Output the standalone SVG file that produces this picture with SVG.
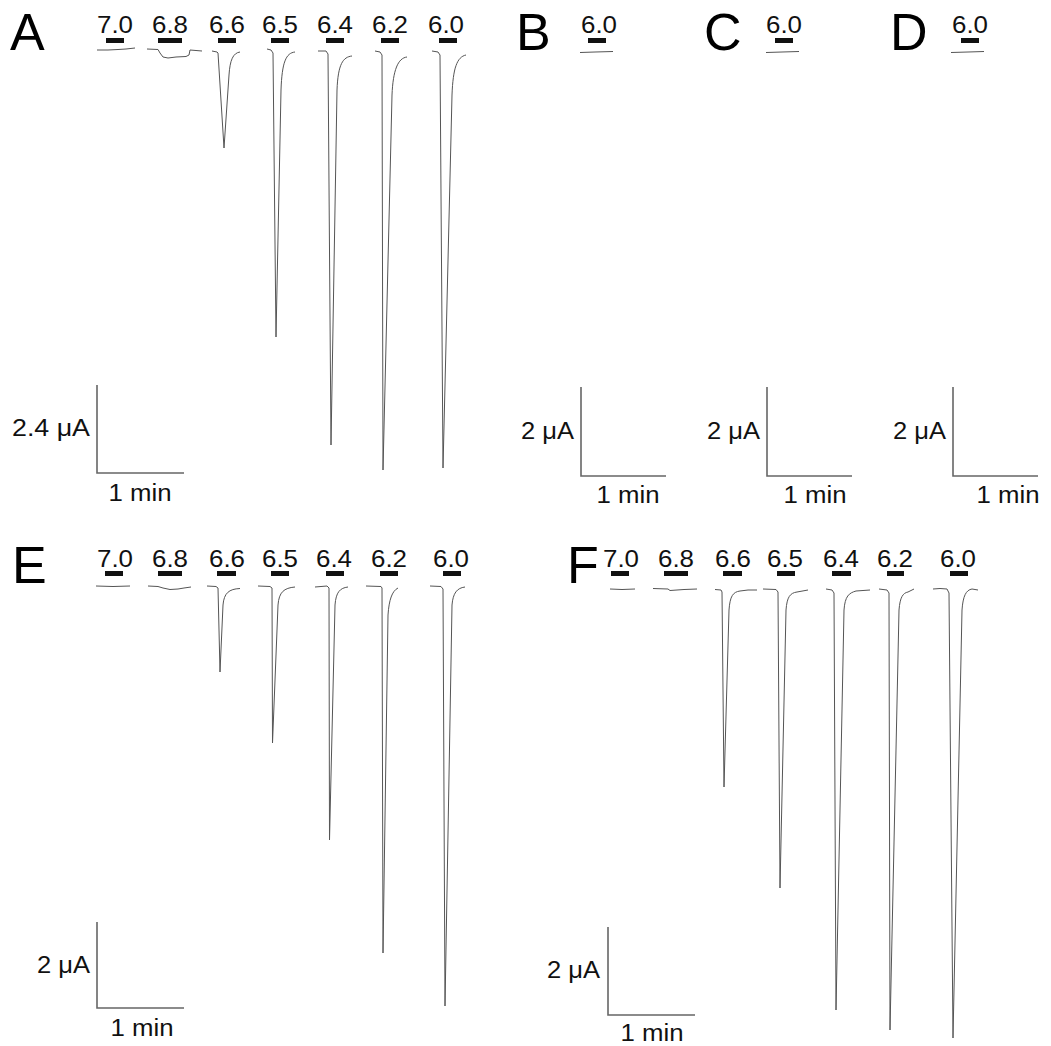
<svg xmlns="http://www.w3.org/2000/svg" width="1051" height="1046" viewBox="0 0 1051 1046">
<style>
.L{font-family:"Liberation Sans",Arial,sans-serif;font-size:52px;fill:#000}
.n{font-family:"Liberation Sans",Arial,sans-serif;font-size:24px;fill:#111;text-anchor:middle}
.s{font-family:"Liberation Sans",Arial,sans-serif;font-size:23px;fill:#111}
.e{text-anchor:end}
.m{text-anchor:middle}
.t{fill:none;stroke:#555;stroke-width:1;stroke-linejoin:round}
.sb{fill:none;stroke:#666;stroke-width:1.6}
.b{fill:#111}
</style>
<rect width="1051" height="1046" fill="#fff"/>
<g id="panelA">
<text class="L" x="10" y="50">A</text>
<g id="A-labels">
<text class="n" x="115" y="33" textLength="36" lengthAdjust="spacingAndGlyphs">7.0</text>
<text class="n" x="170" y="33" textLength="36" lengthAdjust="spacingAndGlyphs">6.8</text>
<text class="n" x="227" y="33" textLength="36" lengthAdjust="spacingAndGlyphs">6.6</text>
<text class="n" x="280" y="33" textLength="36" lengthAdjust="spacingAndGlyphs">6.5</text>
<text class="n" x="335" y="33" textLength="36" lengthAdjust="spacingAndGlyphs">6.4</text>
<text class="n" x="390" y="33" textLength="36" lengthAdjust="spacingAndGlyphs">6.2</text>
<text class="n" x="446" y="33" textLength="36" lengthAdjust="spacingAndGlyphs">6.0</text>
<rect class="b" x="106" y="38" width="18" height="5"/>
<rect class="b" x="158" y="38" width="24" height="5"/>
<rect class="b" x="218" y="38" width="18" height="5"/>
<rect class="b" x="271" y="38" width="18" height="5"/>
<rect class="b" x="326" y="38" width="18" height="5"/>
<rect class="b" x="381" y="38" width="18" height="5"/>
<rect class="b" x="439" y="38" width="18" height="5"/>
</g>
<g id="A-traces">
<path class="t" d="M97 50 L108 50 L118 49.5 L126 49 L135 48"/>
<path class="t" d="M147 49 L158 49.5 L160 53 L163 57 L168 58 L176 57 L186 56.5 L189 55 L190 50 L196 50.5 L202 51"/>
<path class="t" d="M212 51 L217 52 L218 53 L224 148 L229 75 C230 60 233 53 240 52"/>
<path class="t" d="M267 49 L271 50 L273 53 L276 337 L281 90 C282 62 286 53 295 52"/>
<path class="t" d="M318 51 L326 51 L328 54 L331 445 L337 90 C338 64 343 57 352 56"/>
<path class="t" d="M375 51 L380 52 L382 55 L383 470 L392 95 C393 70 398 58 407 57"/>
<path class="t" d="M432 51 L438 52 L440 55 L443 468 L452 95 C453 68 457 57 466 55"/>
</g>
<g id="A-scale">
<path class="sb" d="M97 385 L97 473 L184 473"/>
<text class="s e" x="90" y="436" textLength="78" lengthAdjust="spacingAndGlyphs">2.4 μA</text>
<text class="s m" x="140" y="501" textLength="63" lengthAdjust="spacingAndGlyphs">1 min</text>
</g>
</g>
<g id="panelB">
<text class="L" x="516" y="50">B</text>
<text class="n" x="599" y="33" textLength="36" lengthAdjust="spacingAndGlyphs">6.0</text>
<rect class="b" x="588" y="38" width="18" height="5"/>
<path class="t" d="M580 52.5 L595 52 L613 51.5"/>
<path class="sb" d="M581 387 L581 476 L666 476"/>
<text class="s e" x="574" y="439" textLength="53" lengthAdjust="spacingAndGlyphs">2 μA</text>
<text class="s m" x="628" y="503" textLength="63" lengthAdjust="spacingAndGlyphs">1 min</text>
</g>
<g id="panelC">
<text class="L" x="704" y="50">C</text>
<text class="n" x="784" y="33" textLength="36" lengthAdjust="spacingAndGlyphs">6.0</text>
<rect class="b" x="775" y="38" width="18" height="5"/>
<path class="t" d="M766 52.5 L782 52 L799 51.5"/>
<path class="sb" d="M767 387 L767 476 L852 476"/>
<text class="s e" x="760" y="439" textLength="53" lengthAdjust="spacingAndGlyphs">2 μA</text>
<text class="s m" x="815" y="503" textLength="63" lengthAdjust="spacingAndGlyphs">1 min</text>
</g>
<g id="panelD">
<text class="L" x="890" y="50">D</text>
<text class="n" x="970" y="33" textLength="36" lengthAdjust="spacingAndGlyphs">6.0</text>
<rect class="b" x="961" y="38" width="18" height="5"/>
<path class="t" d="M951 52.5 L968 52 L984 51.5"/>
<path class="sb" d="M953 387 L953 476 L1038 476"/>
<text class="s e" x="946" y="439" textLength="53" lengthAdjust="spacingAndGlyphs">2 μA</text>
<text class="s m" x="1008" y="503" textLength="63" lengthAdjust="spacingAndGlyphs">1 min</text>
</g>
<g id="panelE">
<text class="L" x="12" y="583">E</text>
<g id="E-labels">
<text class="n" x="115" y="567" textLength="36" lengthAdjust="spacingAndGlyphs">7.0</text>
<text class="n" x="170" y="567" textLength="36" lengthAdjust="spacingAndGlyphs">6.8</text>
<text class="n" x="227" y="567" textLength="36" lengthAdjust="spacingAndGlyphs">6.6</text>
<text class="n" x="280" y="567" textLength="36" lengthAdjust="spacingAndGlyphs">6.5</text>
<text class="n" x="334" y="567" textLength="36" lengthAdjust="spacingAndGlyphs">6.4</text>
<text class="n" x="389" y="567" textLength="36" lengthAdjust="spacingAndGlyphs">6.2</text>
<text class="n" x="451" y="567" textLength="36" lengthAdjust="spacingAndGlyphs">6.0</text>
<rect class="b" x="105" y="571" width="18" height="5"/>
<rect class="b" x="158" y="571" width="24" height="5"/>
<rect class="b" x="217" y="571" width="19" height="5"/>
<rect class="b" x="271" y="571" width="18" height="5"/>
<rect class="b" x="326" y="571" width="18" height="5"/>
<rect class="b" x="380" y="571" width="18" height="5"/>
<rect class="b" x="443" y="571" width="18" height="5"/>
</g>
<g id="E-traces">
<path class="t" d="M96 586 L113 586.5 L130 586"/>
<path class="t" d="M148 586 L158 586.5 L163 588 L170 589.5 L178 589 L184 588 L191 587"/>
<path class="t" d="M207 586 L216 586.5 L218 588 L220 672 L223 605 C224 593 229 589 240 588.5"/>
<path class="t" d="M258 586 L270 586.5 L272 588 L272.5 743 L278 605 C279 592 284 588 295 587"/>
<path class="t" d="M315 587 L327 586 L329 588 L329.5 840 L335 605 C336 592 340 588 348 587"/>
<path class="t" d="M366 586 L381 586.5 L382 588 L383 953 L388 615 C389 600 392 591 398 588"/>
<path class="t" d="M430 586 L441 586.5 L443 589 L445 1006 L452 605 C453 593 457 588 465 587"/>
</g>
<g id="E-scale">
<path class="sb" d="M97 922 L97 1008 L184 1008"/>
<text class="s e" x="90" y="973" textLength="53" lengthAdjust="spacingAndGlyphs">2 μA</text>
<text class="s m" x="142" y="1036" textLength="63" lengthAdjust="spacingAndGlyphs">1 min</text>
</g>
</g>
<g id="panelF">
<text class="L" x="567" y="583">F</text>
<g id="F-labels">
<text class="n" x="621" y="567" textLength="36" lengthAdjust="spacingAndGlyphs">7.0</text>
<text class="n" x="676" y="567" textLength="36" lengthAdjust="spacingAndGlyphs">6.8</text>
<text class="n" x="733" y="567" textLength="36" lengthAdjust="spacingAndGlyphs">6.6</text>
<text class="n" x="785" y="567" textLength="36" lengthAdjust="spacingAndGlyphs">6.5</text>
<text class="n" x="841" y="567" textLength="36" lengthAdjust="spacingAndGlyphs">6.4</text>
<text class="n" x="895" y="567" textLength="36" lengthAdjust="spacingAndGlyphs">6.2</text>
<text class="n" x="958" y="567" textLength="36" lengthAdjust="spacingAndGlyphs">6.0</text>
<rect class="b" x="611" y="571" width="18" height="5"/>
<rect class="b" x="664" y="571" width="24" height="5"/>
<rect class="b" x="723" y="571" width="19" height="5"/>
<rect class="b" x="777" y="571" width="18" height="5"/>
<rect class="b" x="832" y="571" width="19" height="5"/>
<rect class="b" x="887" y="571" width="17" height="5"/>
<rect class="b" x="950" y="571" width="18" height="5"/>
</g>
<g id="F-traces">
<path class="t" d="M610 589 L622 589.5 L635 589"/>
<path class="t" d="M653 588.5 L668 589 L670 590.5 L684 589.5 L697 589"/>
<path class="t" d="M715 589.5 L721 590 L722 592 L724 787 L729 610 C730 596 733 592 740 591 L748 590 L757 590"/>
<path class="t" d="M763 589 L776 589.5 L778 592 L780 888 L786 610 C787 597 790 593 797 592 L808 590"/>
<path class="t" d="M826 589 L832 590 L834 593 L836 1010 L844 610 C845 596 849 593 856 591 L870 590"/>
<path class="t" d="M879 589 L887 590 L889 593 L890 1030 L899 610 C900 597 903 593 908 592 L914 589"/>
<path class="t" d="M933 589 L940 588.5 L947 589 L949 593 L953 1038 L962 610 C963 596 966 590 972 589 L978 590"/>
</g>
<g id="F-scale">
<path class="sb" d="M608 927 L608 1015 L695 1015"/>
<text class="s e" x="600" y="978" textLength="53" lengthAdjust="spacingAndGlyphs">2 μA</text>
<text class="s m" x="652" y="1041" textLength="63" lengthAdjust="spacingAndGlyphs">1 min</text>
</g>
</g>
</svg>
